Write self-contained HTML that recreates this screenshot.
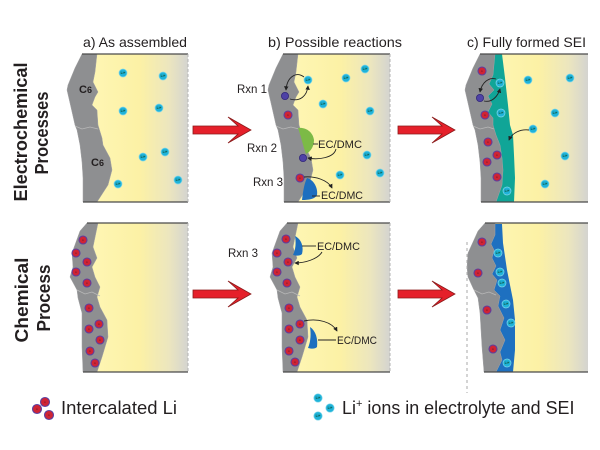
<!DOCTYPE html>
<html><head><meta charset="utf-8"><style>
html,body{margin:0;padding:0;background:#fff;}
svg{display:block;}
.cy circle{fill:#1fb3d9;stroke:#7fd6ea;stroke-width:0.7;}
.cy text{fill:#0d4a2c;font-family:"Liberation Sans",sans-serif;font-size:3.2px;text-anchor:middle;font-weight:bold;}
.rd circle{fill:#cf2434;stroke:#5b3fa0;stroke-width:1.1;}
.rd text{fill:#6b1a2a;font-family:"Liberation Sans",sans-serif;font-size:3px;text-anchor:middle;}
.pu{fill:#4e42a6;stroke:#33287a;stroke-width:0.8;}
.gr{fill:#8e8f91;stroke:#a3a3a5;stroke-width:0.5;}
.bd{stroke:#4a4a4a;stroke-width:1.3;fill:none;}
.dash{stroke:#b3b3b3;stroke-width:1;stroke-dasharray:3 2;fill:none;}
.con{stroke:#222;stroke-width:0.9;fill:none;}
.lbl{font-family:"Liberation Sans",sans-serif;fill:#231f20;}
.arr{fill:#e5202a;stroke:#8b1a1a;stroke-width:0.8;}
</style></head><body>
<svg width="600" height="450" viewBox="0 0 600 450" xmlns="http://www.w3.org/2000/svg">
<defs>
<linearGradient id="yg" x1="0" y1="0" x2="1" y2="0">
<stop offset="0" stop-color="#fef6b4"/>
<stop offset="0.5" stop-color="#fcf1a5"/>
<stop offset="0.8" stop-color="#ece6be"/>
<stop offset="1" stop-color="#d4d4d0"/>
</linearGradient>
<marker id="ah" viewBox="0 0 6 6" refX="5" refY="3" markerWidth="5" markerHeight="5" orient="auto"><path d="M0,0 L6,3 L0,6 Z" fill="#222"/></marker>
</defs>

<!-- titles -->
<text class="lbl" x="83" y="47" font-size="14" textLength="104" lengthAdjust="spacingAndGlyphs">a) As assembled</text>
<text class="lbl" x="268" y="47" font-size="14" textLength="134" lengthAdjust="spacingAndGlyphs">b) Possible reactions</text>
<text class="lbl" x="467" y="47" font-size="14" textLength="119" lengthAdjust="spacingAndGlyphs">c) Fully formed SEI</text>

<!-- side labels -->
<text class="lbl" font-weight="bold" font-size="18" text-anchor="middle" transform="translate(27,132) rotate(-90)" textLength="139" lengthAdjust="spacingAndGlyphs">Electrochemical</text>
<text class="lbl" font-weight="bold" font-size="18" text-anchor="middle" transform="translate(48,133) rotate(-90)" textLength="83" lengthAdjust="spacingAndGlyphs">Processes</text>
<text class="lbl" font-weight="bold" font-size="18" text-anchor="middle" transform="translate(28,300) rotate(-90)" textLength="85" lengthAdjust="spacingAndGlyphs">Chemical</text>
<text class="lbl" font-weight="bold" font-size="18" text-anchor="middle" transform="translate(50,298) rotate(-90)" textLength="67" lengthAdjust="spacingAndGlyphs">Process</text>

<!-- ===== TOP ROW ===== -->
<!-- yellow -->
<rect x="91" y="54" width="97" height="148" fill="url(#yg)"/>
<rect x="292" y="54" width="98" height="148" fill="url(#yg)"/>
<rect x="489" y="54" width="99" height="148" fill="url(#yg)"/>
<!-- teal SEI -->
<path d="M488,54 L502,54 L505,78 L508,105 L510,125 L513,135 L514,155 L515,178 L514,202 L488,202 Z" fill="#10a597"/>
<!-- gray -->
<path id="gt" class="gr" d="M82,54 L75,68 L68,85 L67,90 L70,103 L75,125 L77,130 L80,145 L82,162 L83,178 L83,202 L97,202 L108,185 L112,170 L110,158 L103,145 L102,138 L98,125 L97,110 L92,105 L95,97 L98,92 L93,82 L95,72 L97,54 Z"/>
<path class="gr" transform="translate(201,0)" d="M82,54 L75,68 L68,85 L67,90 L70,103 L75,125 L77,130 L80,145 L82,162 L83,178 L83,202 L97,202 L108,185 L112,170 L110,158 L103,145 L102,138 L98,125 L97,110 L92,105 L95,97 L98,92 L93,82 L95,72 L97,54 Z"/>
<path class="gr" d="M480,54 L473,68 L466,85 L465,90 L468,103 L473,125 L475,130 L478,145 L480,162 L481,178 L481,202 L496,202 L502,185 L503,170 L502,158 L500,145 L496,135 L493,125 L493,118 L488,112 L492,104 L488,96 L494,90 L489,84 L493,75 L495,54 Z"/>
<!-- cracks -->
<polyline points="75,126 82,129 90,127 98,129" stroke="#b8b8b8" stroke-width="0.8" fill="none"/>
<polyline points="276,126 283,129 291,127 299,129" stroke="#b8b8b8" stroke-width="0.8" fill="none"/>
<polyline points="473,126 480,129 488,127 494,129" stroke="#b8b8b8" stroke-width="0.8" fill="none"/>
<!-- blobs -->
<path d="M298,128 C306,127 313,132 314,140 C314,147 310,152 306,154 C303,146 301,136 298,128 Z" fill="#7cba46"/>
<path d="M307,178 C314,180 318,188 317,195 C315,199 309,200 302,200 C303,192 304,184 307,178 Z" fill="#1d6fbf"/>
<!-- borders -->
<path class="bd" d="M82,54 H188 M83,202 H188 M283,54 H390 M284,202 H390 M480,54 H588 M481,202 H588"/>
<path class="dash" d="M188,54 V202 M390,54 V202"/>

<!-- C6 labels -->
<text class="lbl" x="79" y="93" font-size="11" font-weight="bold">C<tspan font-size="9">6</tspan></text>
<text class="lbl" x="91" y="166" font-size="11" font-weight="bold">C<tspan font-size="9">6</tspan></text>

<!-- top a ions -->
<g class="cy"><circle cx="123" cy="73" r="4"/><text x="123" y="74.1">Li+</text></g>
<g class="cy"><circle cx="163" cy="76" r="4"/><text x="163" y="77.1">Li+</text></g>
<g class="cy"><circle cx="123" cy="111" r="4"/><text x="123" y="112.1">Li+</text></g>
<g class="cy"><circle cx="159" cy="108" r="4"/><text x="159" y="109.1">Li+</text></g>
<g class="cy"><circle cx="143" cy="157" r="4"/><text x="143" y="158.1">Li+</text></g>
<g class="cy"><circle cx="165" cy="152" r="4"/><text x="165" y="153.1">Li+</text></g>
<g class="cy"><circle cx="118" cy="184" r="4"/><text x="118" y="185.1">Li+</text></g>
<g class="cy"><circle cx="178" cy="180" r="4"/><text x="178" y="181.1">Li+</text></g>

<!-- top b ions -->
<g class="cy"><circle cx="365" cy="69" r="4"/><text x="365" y="70.1">Li+</text></g>
<g class="cy"><circle cx="346" cy="78" r="4"/><text x="346" y="79.1">Li+</text></g>
<g class="cy"><circle cx="308" cy="80" r="4"/><text x="308" y="81.1">Li+</text></g>
<g class="cy"><circle cx="323" cy="104" r="4"/><text x="323" y="105.1">Li+</text></g>
<g class="cy"><circle cx="370" cy="111" r="4"/><text x="370" y="112.1">Li+</text></g>
<g class="cy"><circle cx="367" cy="155" r="4"/><text x="367" y="156.1">Li+</text></g>
<g class="cy"><circle cx="340" cy="175" r="4"/><text x="340" y="176.1">Li+</text></g>
<g class="cy"><circle cx="380" cy="173" r="4"/><text x="380" y="174.1">Li+</text></g>
<circle class="pu" cx="285" cy="96" r="3.6"/>
<circle class="pu" cx="303" cy="158" r="3.6"/>
<g class="rd"><circle cx="288" cy="115" r="4"/><text x="288" y="116">Li</text></g>
<g class="rd"><circle cx="300" cy="178" r="4"/><text x="300" y="179">Li</text></g>

<!-- top b connectors -->
<path class="con" marker-end="url(#ah)" d="M304,77 C296,71 287,77 286,90"/>
<path class="con" marker-end="url(#ah)" d="M290,99 C300,102 307,96 308,86"/>
<path class="con" d="M313,144 L318,144"/>
<path class="con" marker-end="url(#ah)" d="M336,149 C334,158 318,160 308,158"/>
<path class="con" marker-end="url(#ah)" d="M304,177 C315,176 328,180 332,188"/>
<path class="con" d="M312,196 L320,196"/>
<text class="lbl" x="237" y="93" font-size="11.5">Rxn 1</text>
<text class="lbl" x="247" y="152" font-size="11.5">Rxn 2</text>
<text class="lbl" x="253" y="186" font-size="11.5">Rxn 3</text>
<text class="lbl" x="318" y="148" font-size="11" textLength="44" lengthAdjust="spacingAndGlyphs">EC/DMC</text>
<text class="lbl" x="321" y="199" font-size="11" textLength="42" lengthAdjust="spacingAndGlyphs">EC/DMC</text>

<!-- top c ions -->
<g class="cy"><circle cx="500" cy="83" r="4"/><text x="500" y="84.1">Li+</text></g>
<g class="cy"><circle cx="528" cy="80" r="4"/><text x="528" y="81.1">Li+</text></g>
<g class="cy"><circle cx="570" cy="78" r="4"/><text x="570" y="79.1">Li+</text></g>
<g class="cy"><circle cx="501" cy="113" r="4"/><text x="501" y="114.1">Li+</text></g>
<g class="cy"><circle cx="555" cy="113" r="4"/><text x="555" y="114.1">Li+</text></g>
<g class="cy"><circle cx="533" cy="129" r="4"/><text x="533" y="130.1">Li+</text></g>
<g class="cy"><circle cx="565" cy="156" r="4"/><text x="565" y="157.1">Li+</text></g>
<g class="cy"><circle cx="545" cy="184" r="4"/><text x="545" y="185.1">Li+</text></g>
<g class="cy"><circle cx="507" cy="191" r="4"/><text x="507" y="192.1">Li+</text></g>
<g class="rd"><circle cx="482" cy="71" r="4"/><text x="482" y="72">Li</text></g>
<g class="rd"><circle cx="485" cy="115" r="4"/><text x="485" y="116">Li</text></g>
<g class="rd"><circle cx="488" cy="142" r="4"/><text x="488" y="143">Li</text></g>
<g class="rd"><circle cx="497" cy="155" r="4"/><text x="497" y="156">Li</text></g>
<g class="rd"><circle cx="487" cy="162" r="4"/><text x="487" y="163">Li</text></g>
<g class="rd"><circle cx="497" cy="177" r="4"/><text x="497" y="178">Li</text></g>
<circle class="pu" cx="480" cy="98" r="3.6"/>
<path class="con" marker-end="url(#ah)" d="M496,79 C489,77 482,82 480,92"/>
<path class="con" marker-end="url(#ah)" d="M484,101 C492,103 498,96 500,89"/>
<path class="con" marker-end="url(#ah)" d="M529,130 C520,129 512,133 509,140"/>

<!-- big arrows top -->
<polygon class="arr" points="193,126 238,126 228,117 251,130 228,143 238,134 193,134"/>
<polygon class="arr" points="398,126 442,126 432,117 455,130 432,143 442,134 398,134"/>

<!-- ===== BOTTOM ROW ===== -->
<rect x="91" y="223" width="97" height="149" fill="url(#yg)"/>
<rect x="291" y="223" width="99" height="149" fill="url(#yg)"/>
<rect x="489" y="223" width="99" height="149" fill="url(#yg)"/>
<path d="M488,224 L502,224 L503,243 L507,270 L513,300 L515,320 L515,350 L513,372 L488,372 Z" fill="#1e70c0"/>
<path class="gr" d="M87,223 L80,231 L72,253 L73,267 L70,277 L77,290 L78,298 L82,313 L82,330 L82,347 L83,372 L97,372 L102,357 L108,337 L107,320 L100,307 L97,297 L100,287 L95,277 L92,267 L97,258 L93,247 L98,223 Z"/>
<path class="gr" transform="translate(200,0)" d="M87,223 L80,231 L72,253 L73,267 L70,277 L77,290 L78,298 L82,313 L82,330 L82,347 L83,372 L97,372 L102,357 L108,337 L107,320 L100,307 L97,297 L100,287 L95,277 L92,267 L97,258 L93,247 L98,223 Z"/>
<path class="gr" d="M485,223 L478,231 L468,253 L467,267 L468,277 L473,288 L478,298 L480,313 L481,330 L482,347 L484,372 L496,372 L502,360 L500,352 L505,340 L500,330 L504,318 L498,306 L500,296 L494,290 L497,280 L492,274 L496,266 L492,258 L494,250 L491,244 L495,235 L495,223 Z"/>
<polyline points="77,290 85,294 92,292 100,296" stroke="#b8b8b8" stroke-width="0.8" fill="none"/>
<polyline points="277,290 285,294 292,292 300,296" stroke="#b8b8b8" stroke-width="0.8" fill="none"/>
<polyline points="474,290 482,294 489,292 496,295" stroke="#b8b8b8" stroke-width="0.8" fill="none"/>
<!-- blue blobs bottom b -->
<path d="M295,236 C301,239 304,246 302,254 C300,256 297,256 293,255 C296,249 296,242 295,236 Z" fill="#1d6fbf"/>
<path d="M310,327 C316,331 318,339 317,347 C315,349 312,349 308,348 C311,341 311,333 310,327 Z" fill="#1d6fbf"/>
<path class="bd" d="M87,223 H188 M83,372 H188 M287,223 H390 M283,372 H390 M485,223 H588 M484,372 H588"/>
<path class="dash" d="M188,223 V372 M390,223 V372"/>
<path d="M467,242 V393" stroke="#aaa" stroke-width="1" stroke-dasharray="3 3" fill="none"/>

<!-- bottom a red -->
<g class="rd"><circle cx="83" cy="240" r="4"/><text x="83" y="241">Li</text></g>
<g class="rd"><circle cx="76" cy="253" r="4"/><text x="76" y="254">Li</text></g>
<g class="rd"><circle cx="87" cy="262" r="4"/><text x="87" y="263">Li</text></g>
<g class="rd"><circle cx="76" cy="272" r="4"/><text x="76" y="273">Li</text></g>
<g class="rd"><circle cx="87" cy="283" r="4"/><text x="87" y="284">Li</text></g>
<g class="rd"><circle cx="89" cy="308" r="4"/><text x="89" y="309">Li</text></g>
<g class="rd"><circle cx="99" cy="324" r="4"/><text x="99" y="325">Li</text></g>
<g class="rd"><circle cx="89" cy="329" r="4"/><text x="89" y="330">Li</text></g>
<g class="rd"><circle cx="100" cy="340" r="4"/><text x="100" y="341">Li</text></g>
<g class="rd"><circle cx="90" cy="351" r="4"/><text x="90" y="352">Li</text></g>
<g class="rd"><circle cx="95" cy="363" r="4"/><text x="95" y="364">Li</text></g>
<!-- bottom b red -->
<g class="rd"><circle cx="286" cy="239" r="4"/><text x="286" y="240">Li</text></g>
<g class="rd"><circle cx="277" cy="253" r="4"/><text x="277" y="254">Li</text></g>
<g class="rd"><circle cx="288" cy="262" r="4"/><text x="288" y="263">Li</text></g>
<g class="rd"><circle cx="277" cy="272" r="4"/><text x="277" y="273">Li</text></g>
<g class="rd"><circle cx="287" cy="283" r="4"/><text x="287" y="284">Li</text></g>
<g class="rd"><circle cx="289" cy="308" r="4"/><text x="289" y="309">Li</text></g>
<g class="rd"><circle cx="300" cy="324" r="4"/><text x="300" y="325">Li</text></g>
<g class="rd"><circle cx="289" cy="329" r="4"/><text x="289" y="330">Li</text></g>
<g class="rd"><circle cx="300" cy="340" r="4"/><text x="300" y="341">Li</text></g>
<g class="rd"><circle cx="289" cy="351" r="4"/><text x="289" y="352">Li</text></g>
<g class="rd"><circle cx="295" cy="362" r="4"/><text x="295" y="363">Li</text></g>
<!-- bottom b labels/connectors -->
<text class="lbl" x="228" y="257" font-size="11.5">Rxn 3</text>
<path class="con" d="M302,246 L316,246"/>
<text class="lbl" x="317" y="250" font-size="11" textLength="43" lengthAdjust="spacingAndGlyphs">EC/DMC</text>
<path class="con" marker-end="url(#ah)" d="M322,252 C318,259 305,263 295,263"/>
<path class="con" d="M318,340 L336,340"/>
<text class="lbl" x="337" y="344" font-size="11" textLength="40" lengthAdjust="spacingAndGlyphs">EC/DMC</text>
<path class="con" marker-end="url(#ah)" d="M304,321 C318,318 332,322 337,331"/>

<!-- bottom c -->
<g class="rd"><circle cx="482" cy="242" r="4"/><text x="482" y="243">Li</text></g>
<g class="rd"><circle cx="478" cy="273" r="4"/><text x="478" y="274">Li</text></g>
<g class="rd"><circle cx="487" cy="310" r="4"/><text x="487" y="311">Li</text></g>
<g class="rd"><circle cx="493" cy="349" r="4"/><text x="493" y="350">Li</text></g>
<g class="cy"><circle cx="498" cy="253" r="4"/><text x="498" y="254.1">Li+</text></g>
<g class="cy"><circle cx="500" cy="272" r="4"/><text x="500" y="273.1">Li+</text></g>
<g class="cy"><circle cx="502" cy="283" r="4"/><text x="502" y="284.1">Li+</text></g>
<g class="cy"><circle cx="506" cy="304" r="4"/><text x="506" y="305.1">Li+</text></g>
<g class="cy"><circle cx="511" cy="323" r="4"/><text x="511" y="324.1">Li+</text></g>
<g class="cy"><circle cx="507" cy="363" r="4"/><text x="507" y="364.1">Li+</text></g>

<!-- big arrows bottom -->
<polygon class="arr" points="193,290 238,290 228,281 251,294 228,307 238,298 193,298"/>
<polygon class="arr" points="398,290 442,290 432,281 455,294 432,307 442,298 398,298"/>

<!-- legend -->
<g class="rd"><circle cx="37" cy="409" r="4.5"/><text x="37" y="410">Li</text></g>
<g class="rd"><circle cx="45" cy="402" r="4.5"/><text x="45" y="403">Li</text></g>
<g class="rd"><circle cx="49" cy="415" r="4.5"/><text x="49" y="416">Li</text></g>
<text class="lbl" x="61" y="414" font-size="18" textLength="116" lengthAdjust="spacingAndGlyphs">Intercalated Li</text>
<g class="cy"><circle cx="318" cy="398" r="4.2"/><text x="318" y="399.1">Li+</text></g>
<g class="cy"><circle cx="330" cy="408" r="4.2"/><text x="330" y="409.1">Li+</text></g>
<g class="cy"><circle cx="318" cy="416" r="4.2"/><text x="318" y="417.1">Li+</text></g>
<text class="lbl" x="342" y="414" font-size="18">Li<tspan font-size="11" dy="-7">+</tspan><tspan dy="7" textLength="212" lengthAdjust="spacingAndGlyphs"> ions in electrolyte and SEI</tspan></text>
</svg>
</body></html>
